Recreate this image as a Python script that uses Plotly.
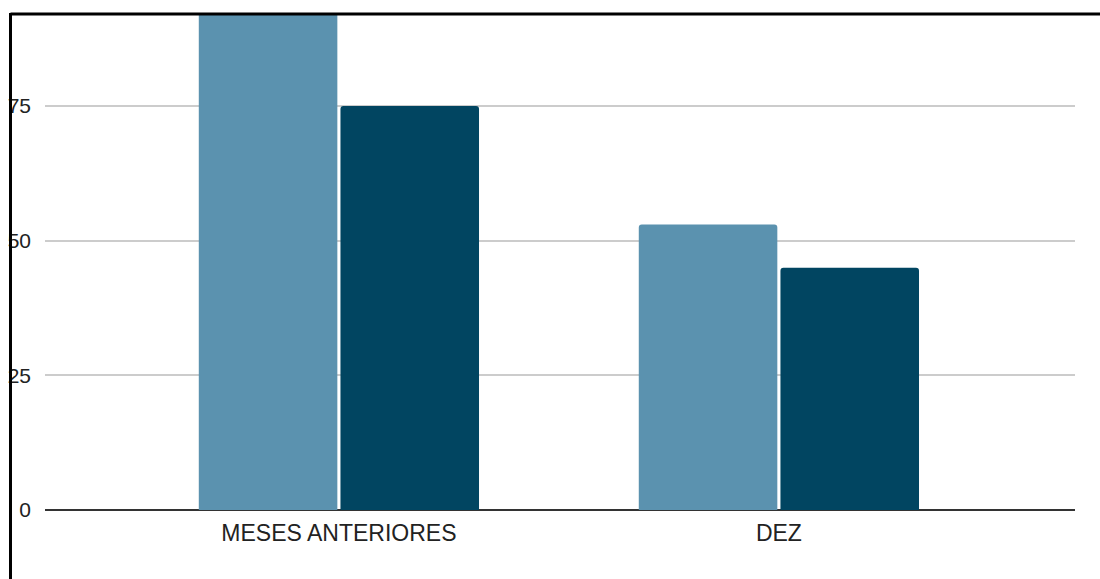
import plotly.graph_objects as go

categories = ["MESES ANTERIORES", "DEZ"]
series_a = [95, 53]
series_b = [75, 45]
tick_vals = [0, 25, 50, 75]
tick_text = ["0", "25", "50", "75"]

W, H = 1100, 579
L, T = 45, 14
R = W - 1075
B = H - 510
pw, ph = W - L - R, H - T - B

fig = go.Figure()
fig.add_trace(go.Bar(x=categories, y=series_a, marker=dict(color="#5b92af", line=dict(width=0)), name="A"))
fig.add_trace(go.Bar(x=categories, y=series_b, marker=dict(color="#014561", line=dict(width=0)), name="B"))

def px_x(p):
    return (p - L) / pw

def px_y(p):
    return (H - B - p) / ph

fig.update_layout(
    width=W, height=H,
    margin=dict(l=L, r=R, t=T, b=B, pad=0, autoexpand=False),
    paper_bgcolor="white", plot_bgcolor="white",
    showlegend=False,
    barmode="group", bargap=0.356, bargroupgap=0.022,
    barcornerradius=3,
    font=dict(family="Liberation Sans, Arial, sans-serif", color="#222222"),
    xaxis=dict(range=[-0.668, 1.673], showgrid=False, ticks="", showline=False,
               automargin=False,
               tickfont=dict(size=23, color="#222222"), ticklabelstandoff=7),
    yaxis=dict(range=[0, 92.1], tickvals=tick_vals, ticktext=tick_text,
               automargin=False,
               showgrid=True, gridcolor="#cccccc", gridwidth=1.5,
               zeroline=True, zerolinecolor="#333333", zerolinewidth=2,
               ticks="", showline=False,
               tickfont=dict(size=21, color="#222222"), ticklabelstandoff=13),
    shapes=[
        dict(type="line", xref="paper", yref="paper",
             x0=px_x(10.5), x1=px_x(1110), y0=px_y(14), y1=px_y(14),
             line=dict(color="black", width=3)),
        dict(type="line", xref="paper", yref="paper",
             x0=px_x(10.5), x1=px_x(10.5), y0=px_y(13), y1=px_y(590),
             line=dict(color="black", width=3)),
    ],
)

fig.write_html("out.html", config={"displayModeBar": False},
               post_script="document.body.style.margin='0';document.body.style.overflow='hidden';")
